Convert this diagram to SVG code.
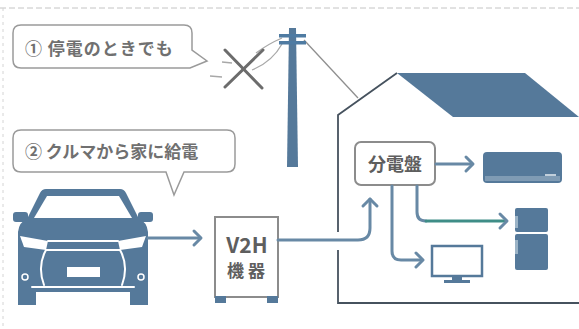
<svg xmlns="http://www.w3.org/2000/svg" width="579" height="329" viewBox="0 0 579 329">
  <defs>
    <style>
      .bubble { fill: #ffffff; stroke: #9a9a9a; stroke-width: 1.5; }
      .btxt { font-family: "Noto Sans CJK JP", "Noto Sans", sans-serif; font-size: 17px; font-weight: bold; fill: #707070; }
      .box { fill: #ffffff; stroke: #8c8c8c; stroke-width: 2; }
      .label { font-family: "Noto Sans CJK JP", "Noto Sans", sans-serif; font-weight: bold; fill: #5e5e5e; text-anchor: middle; }
      .blue { fill: #55799a; }
      .wire { fill: none; stroke: #a8a8a8; stroke-width: 1.3; }
      .wall { fill: none; stroke: #46525e; stroke-width: 1.8; }
      .flow { fill: none; stroke: #6889a5; stroke-width: 3; stroke-linecap: round; stroke-linejoin: round; }
      .flow-teal { fill: none; stroke: #3f8d87; stroke-width: 3; stroke-linecap: round; stroke-linejoin: round; }
      .wline { fill: none; stroke: #ffffff; stroke-width: 2; stroke-linecap: round; }
    </style>
  </defs>

  <rect width="579" height="329" fill="#ffffff"/>
  <!-- page border guides -->
  <line x1="0" y1="8" x2="579" y2="8" stroke="#c4c4c4" stroke-width="1" stroke-dasharray="6 3"/>
  <line x1="3" y1="8" x2="3" y2="329" stroke="#d4d4d4" stroke-width="1" stroke-dasharray="3 4"/>

  <!-- callout 1 -->
  <g id="callout-outage">
    <path class="bubble" d="M21,25 H184 Q192,25 192,33 V50 L207,61 L190,68 H21 Q13,68 13,60 V33 Q13,25 21,25 Z"/>
    <text class="btxt" x="25" y="55" letter-spacing="1">① 停電のときでも</text>
  </g>

  <!-- utility pole with cut lines -->
  <g id="pole">
    <path class="wire" d="M282,38 Q268,44 256,53"/>
    <path class="wire" d="M282,44 Q272,62 252,70"/>
    <path class="wire" d="M222,62 L232,63"/>
    <path class="wire" d="M210,76 L222,77"/>
    <line x1="304" y1="40" x2="358" y2="98" stroke="#8f8f8f" stroke-width="1.3"/>
    <path class="blue" d="M289,28 H296 L298,167 H287 Z" fill="#4f7ba2"/>
    <rect x="279" y="34" width="27" height="3.5" fill="#4f7ba2"/>
    <rect x="279" y="41" width="27" height="3.5" fill="#4f7ba2"/>
    <g stroke="#6c6c6c" stroke-width="3" stroke-linecap="round">
      <line x1="225" y1="50" x2="262" y2="88"/>
      <line x1="263" y1="50" x2="225" y2="87"/>
    </g>
  </g>

  <!-- house -->
  <g id="house">
    <polygon class="blue" points="397,73 525,73 579,117 453,117" fill="#5a7e9f"/>
    <path class="wall" d="M338,232 V115 L397,73"/>
    <path class="wall" d="M338,250 V303 H579"/>
  </g>

  <!-- callout 2 -->
  <g id="callout-v2h">
    <path class="bubble" d="M21,130 H227 Q235,130 235,138 V164 Q235,172 227,172 H184 L174,195 L166,172 H21 Q13,172 13,164 V138 Q13,130 21,130 Z"/>
    <text class="btxt" x="25" y="158">② クルマから家に給電</text>
  </g>

  <!-- car, front view -->
  <g id="car">
    <rect class="blue" x="13" y="212" width="15" height="10" rx="3"/>
    <rect class="blue" x="138" y="212" width="15" height="10" rx="3"/>
    <path class="blue" d="M46,189 H120 Q124,189 126,193 L139,219 Q147,222 148,232 V305 H130 V292 H36 V305 H18 V232 Q19,222 27,219 L40,193 Q42,189 46,189 Z"/>
    <path d="M47,196 H119 L132,218 H34 Z" fill="#ffffff"/>
    <polygon points="20,236 48,241 46,250 24,247" fill="#ffffff"/>
    <polygon points="146,236 118,241 120,250 142,247" fill="#ffffff"/>
    <path class="wline" d="M48,241 H118" stroke-width="1.5"/>
    <path class="wline" d="M46,250 H120"/>
    <path class="wline" d="M46,250 Q37,266 44,285"/>
    <path class="wline" d="M120,250 Q129,266 122,285"/>
    <path class="wline" d="M32,287 H134"/>
    <rect x="67" y="267" width="33" height="10" fill="#ffffff"/>
    <circle cx="25" cy="277" r="3" fill="none" stroke="#ffffff" stroke-width="1.5"/>
    <circle cx="141" cy="277" r="3" fill="none" stroke="#ffffff" stroke-width="1.5"/>
  </g>

  <!-- V2H unit -->
  <g id="v2h">
    <rect class="box" x="215" y="217" width="63" height="80"/>
    <rect class="blue" x="215" y="296" width="11" height="7"/>
    <rect class="blue" x="267" y="296" width="11" height="7"/>
    <text class="label" x="247" y="253" font-size="21" font-family="Liberation Sans, Arial, sans-serif">V2H</text>
    <text class="label" x="248" y="277" font-size="17" letter-spacing="4">機器</text>
  </g>

  <!-- distribution board -->
  <g id="panel">
    <rect class="box" x="355" y="142" width="80" height="43" rx="6"/>
    <text class="label" x="395" y="171" font-size="18">分電盤</text>
  </g>

  <!-- appliances -->
  <g id="aircon">
    <rect class="blue" x="483" y="152" width="79" height="31" rx="4"/>
    <rect x="485" y="176" width="75" height="5" fill="#7f9bb4"/>
    <line x1="545" y1="175" x2="556" y2="175" stroke="#e6ecf1" stroke-width="1.5"/>
  </g>
  <g id="fridge">
    <rect class="blue" x="515" y="208" width="33" height="24" rx="2"/>
    <rect class="blue" x="515" y="234" width="33" height="36" rx="2"/>
    <rect x="515" y="216" width="3" height="12" fill="#9bb3c6"/>
    <rect x="515" y="240" width="3" height="14" fill="#9bb3c6"/>
  </g>
  <g id="tv">
    <rect x="432" y="246" width="50" height="30" fill="#ffffff" stroke="#55799a" stroke-width="2.5"/>
    <rect class="blue" x="452" y="276" width="10" height="4"/>
    <rect class="blue" x="444" y="280" width="26" height="3"/>
  </g>

  <!-- power flow connectors -->
  <g id="connectors">
    <path class="flow" d="M148,238 H200"/>
    <path class="flow" d="M194,231 L201,238 L194,245"/>
    <path class="flow" d="M278,240 H358 Q370,240 370,228 V199"/>
    <path class="flow" d="M363,206 L370,199 L377,206"/>
    <path class="flow" d="M436,164 H472"/>
    <path class="flow" d="M466,157 L473,164 L466,171"/>
    <path class="flow" d="M417,186 V212 Q417,221 426,221"/>
    <path class="flow-teal" d="M426,221 H506"/>
    <path class="flow" d="M500,214 L507,221 L500,228"/>
    <path class="flow" d="M392,186 V251 Q392,260 401,260 H422"/>
    <path class="flow" d="M416,253 L423,260 L416,267"/>
  </g>
</svg>
